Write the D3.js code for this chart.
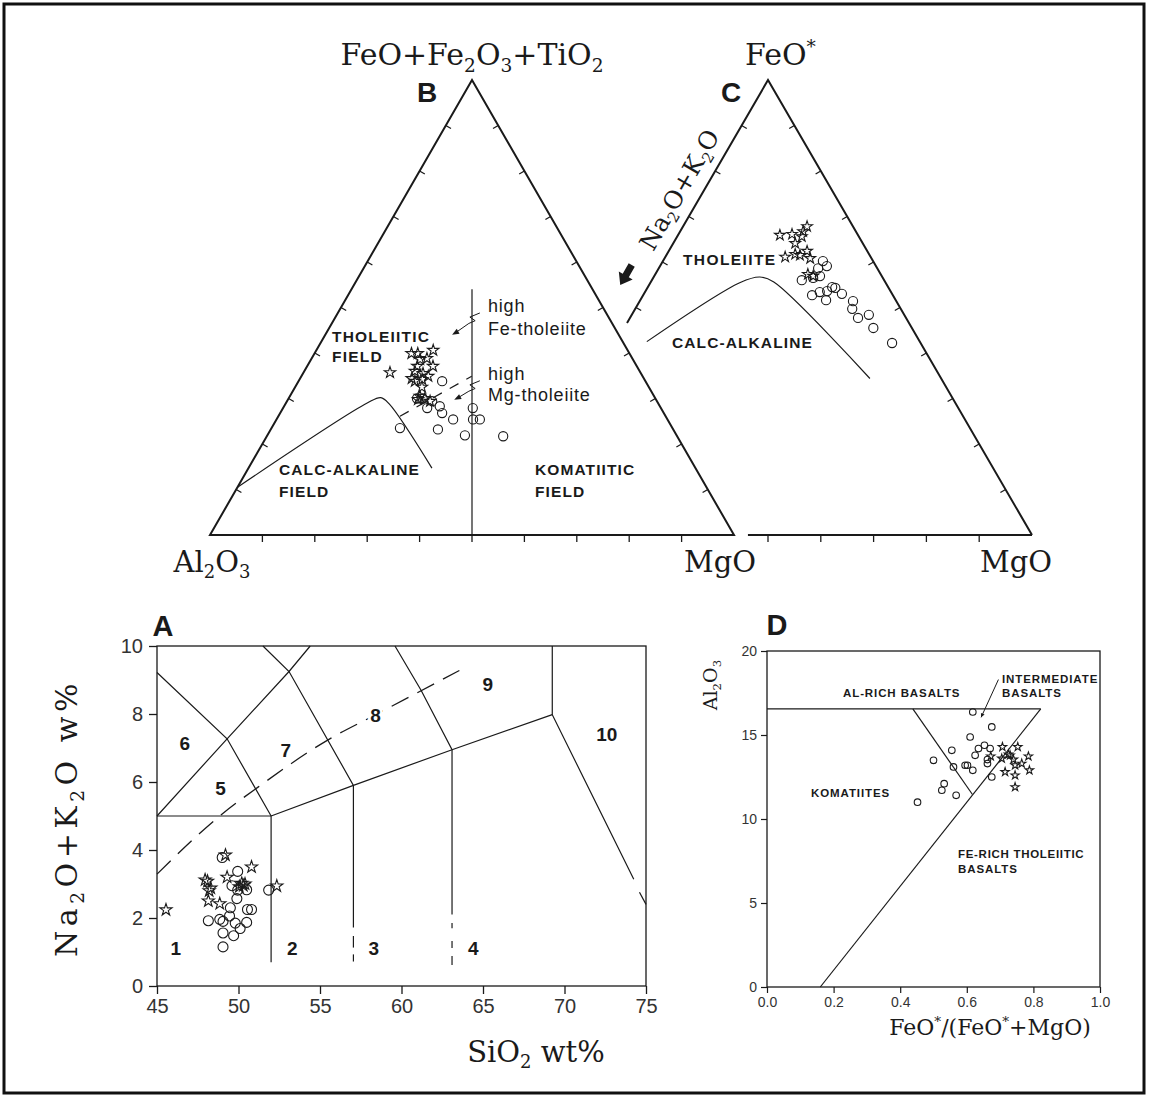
<!DOCTYPE html>
<html>
<head>
<meta charset="utf-8">
<script src="https://cdn.jsdelivr.net/npm/d3@7"></script>
<style>
  html,body{margin:0;padding:0;background:#fff;}
  svg{display:block;}
  .serif{font-family:"DejaVu Serif","Liberation Serif",serif;fill:#1a1a1a;}
  .lab{font-family:"Liberation Sans",Arial,sans-serif;font-weight:bold;fill:#1a1a1a;}
  .reg{font-family:"Liberation Sans",Arial,sans-serif;fill:#1a1a1a;}
  .tick text{font-family:"Liberation Sans",Arial,sans-serif;fill:#333;}
</style>
</head>
<body>
<svg id="fig" width="1149" height="1097" viewBox="0 0 1149 1097"></svg>
<script>
// ================= DATA =================
// Panel A : total alkali vs silica  [SiO2 wt%, Na2O+K2O wt%]
const tasCircles = [[49.0,3.78],[49.95,3.37],[49.6,2.95],[49.95,2.82],[50.5,2.83],[49.9,2.57],[49.5,2.3],
  [50.55,2.25],[50.8,2.25],[48.15,1.92],[48.85,1.96],[49.05,1.9],[49.45,2.06],[49.8,1.85],[50.1,1.69],
  [50.5,1.87],[49.05,1.56],[49.7,1.48],[49.05,1.15],[51.85,2.82]];
const tasStars = [[45.55,2.24],[49.2,3.85],[49.3,3.2],[50.8,3.5],[47.95,3.12],[48.1,3.08],[48.3,2.88],
  [48.2,2.8],[48.15,2.5],[48.85,2.42],[50.2,3.02],[50.4,3.0],[50.05,2.92],[50.3,2.95],[52.35,2.94]];
const tasTicksX = [45,50,55,60,65,70,75];
const tasTicksY = [0,2,4,6,8,10];
const tasFieldLines = [
  [[45,9.22],[49.3,7.27],[52,5]],
  [[45,5],[49.3,7.27],[53.1,9.25],[54.4,10]],
  [[51.5,10],[53.1,9.25],[57.05,5.9],[57.05,1.72]],
  [[45,5],[52,5],[52,0.7]],
  [[52,5],[57.05,5.9],[63.1,6.95],[69.25,7.98]],
  [[59.6,10],[61.2,8.7],[63.1,6.95],[63.1,2.1]],
  [[69.25,10],[69.25,7.98],[74.25,3.14]],
  [[57.05,1.47],[57.05,1.13]],[[57.05,0.93],[57.05,0.72]],
  [[63.1,1.85],[63.1,1.7]],[[63.1,1.32],[63.1,1.12]],[[63.1,0.88],[63.1,0.62]],
  [[74.6,2.76],[75,2.4]]
];
const tasAlkalineLine = [[45,3.29],[49,5.06],[51.2,5.85],[55.6,7.27],[58.5,8.0],[63.55,9.28]];
const tasFieldNames = ["1","2","3","4","5","6","7","8","9","10"];
const tasFieldPos = [[46.15,1.1],[53.3,1.1],[58.3,1.1],[64.4,1.1],[48.9,5.83],[46.7,7.14],[52.9,6.93],[58.4,7.96],[65.3,8.87],[72.6,7.42]];

// Panel B : Jensen cation plot  [FeO+Fe2O3+TiO2 %, MgO %]  (Al2O3 = remainder)
const jensenStars = [[39.9,18.5],[39.9,19.7],[40.6,22.3],[38.8,22.0],[38.6,20.8],[35.7,16.5],[37.1,21.0],
  [36.0,21.1],[37.1,24.0],[35.5,22.9],[34.4,21.3],[34.2,23.4],[34.9,24.2],[33.8,22.2],[30.5,24.8],
  [30.0,26.0],[29.4,27.3],[29.8,24.8],[32.5,24.2]];
const jensenCircles = [[33.8,27.4],[30.0,24.5],[27.9,27.5],[28.3,29.7],[26.8,30.9],[25.4,33.7],[27.9,36.2],
  [25.4,37.5],[25.4,38.8],[23.5,24.5],[23.2,31.9],[21.9,37.7],[21.7,45.1],[29.4,27.7],[30.0,25.6]];
const jensenCalcAlk = [[10.5,0],[29,15.5],[30.2,17.5],[28.8,19.8],[14.7,35]];
const jensenDivide = [[0,50],[54,23]];
const jensenFeMgDash = [[26.1,23.2],[34.9,32.5]];
const ternTicks = [10,20,30,40,50,60,70,80,90];

// Panel C : AFM  [FeO* %, MgO %]  (Na2O+K2O = remainder)
const afmStars = [[65.9,19.3],[66.1,21.5],[65.6,23.6],[67.8,23.5],[66.7,23.3],[64.1,23.1],[61.1,22.7],
  [61.7,24.3],[61.5,25.3],[62.4,26.2],[60.8,27.6],[56.9,30.1],[57.3,28.9]];
const afmCircles = [[60.2,30.3],[59.1,31.6],[58.6,30.2],[56.9,31.4],[56.0,28.4],[56.5,30.3],[54.5,34.9],
  [54.3,35.6],[53.4,33.1],[53.6,34.4],[52.7,32.0],[51.6,35.2],[53.0,37.5],[51.4,40.4],[49.7,41.1],
  [47.7,43.2],[48.4,44.9],[45.5,47.2],[42.2,52.4]];
const afmBoundary = [[42.5,5.8],[55.5,17],[56.7,20.1],[55.6,23.3],[34.4,52.1]];

// Panel D : Al2O3 vs FeO*/(FeO*+MgO)
const dCircles = [[0.618,16.37],[0.675,15.48],[0.61,14.88],[0.555,14.09],[0.5,13.49],[0.635,14.19],
  [0.653,14.39],[0.67,14.19],[0.625,13.79],[0.662,13.54],[0.662,13.3],[0.595,13.2],[0.602,13.2],
  [0.618,12.9],[0.56,13.1],[0.675,12.5],[0.532,12.1],[0.525,11.71],[0.568,11.41],[0.452,11.0]];
const dStars = [[0.707,14.29],[0.753,14.29],[0.785,13.73],[0.672,13.73],[0.705,13.6],[0.725,13.85],
  [0.73,13.79],[0.74,13.54],[0.745,13.2],[0.765,13.3],[0.788,12.9],[0.715,12.8],[0.745,12.6],[0.745,11.9]];
const dTicksX = [0,0.2,0.4,0.6,0.8,1.0];
const dTicksY = [0,5,10,15,20];
const dLines = [
  [[0,16.55],[0.822,16.55]],
  [[0.438,16.55],[0.617,11.46]],
  [[0.822,16.55],[0.16,0]]
];
const dPointer = [[0.695,18.3],[0.643,16.05]];

// ================= DRAWING =================
const INK = "#1a1a1a";
const svg = d3.select("#fig");
svg.append("rect").attr("x",4).attr("y",4).attr("width",1140).attr("height",1089)
  .attr("fill","none").attr("stroke","#111").attr("stroke-width",3);

function rich(g, x, y, fs, parts) {
  const t = g.append("text").attr("x",x).attr("y",y).attr("font-size",fs);
  let shift = 0;
  for (const [s,k] of parts) {
    const target = k==="sub" ? fs*0.22 : k==="sup" ? -fs*0.4 : 0;
    const ts = t.append("tspan").text(s).attr("dy", target - shift);
    if (k) ts.attr("font-size", fs*0.62);
    shift = target;
  }
  return t;
}
const starSym = s => d3.symbol(d3.symbolStar, s)();
const circleMark = (g, data, fx, fy, r) => g.append("g").selectAll("circle").data(data).join("circle")
  .attr("cx", d=>fx(d)).attr("cy", d=>fy(d)).attr("r", r)
  .attr("fill","none").attr("stroke",INK).attr("stroke-width",1.1);
const starMark = (g, data, fx, fy, s) => g.append("g").selectAll("path").data(data).join("path")
  .attr("transform", d=>`translate(${fx(d)},${fy(d)})`).attr("d", starSym(s))
  .attr("fill","none").attr("stroke",INK).attr("stroke-width",1.1).attr("stroke-linejoin","miter");
function arrowHead(g, from, tip, len, half) {
  const dx = tip[0]-from[0], dy = tip[1]-from[1], L = Math.hypot(dx,dy);
  const ux = dx/L, uy = dy/L, bx = tip[0]-ux*len, by = tip[1]-uy*len;
  g.append("path").attr("d", `M${tip[0]},${tip[1]}L${bx-uy*half},${by+ux*half}L${bx+uy*half},${by-ux*half}Z`)
    .attr("fill",INK);
}

// ---------- Panel A ----------
const xA = d3.scaleLinear().domain([45,75]).range([157,646]);
const yA = d3.scaleLinear().domain([0,10]).range([986,646]);
const gA = svg.append("g");
gA.append("rect").attr("x",xA(45)).attr("y",yA(10)).attr("width",xA(75)-xA(45)).attr("height",yA(0)-yA(10))
  .attr("fill","none").attr("stroke",INK).attr("stroke-width",1.3);
const axAx = gA.append("g").attr("transform",`translate(0,${yA(0)})`)
  .call(d3.axisBottom(xA).tickValues(tasTicksX).tickSize(8).tickSizeOuter(0).tickPadding(5));
const axAy = gA.append("g").attr("transform",`translate(${xA(45)},0)`)
  .call(d3.axisLeft(yA).tickValues(tasTicksY).tickSize(8).tickSizeOuter(0).tickPadding(6));
[axAx, axAy].forEach(a => { a.select(".domain").remove();
  a.selectAll("line").attr("stroke",INK).attr("stroke-width",1.3);
  a.selectAll("text").attr("font-size",20); });
const lineA = d3.line().x(d=>xA(d[0])).y(d=>yA(d[1]));
gA.append("g").selectAll("path").data(tasFieldLines).join("path").attr("d",lineA)
  .attr("fill","none").attr("stroke",INK).attr("stroke-width",1.2);
gA.append("path").attr("d", d3.line().x(d=>xA(d[0])).y(d=>yA(d[1])).curve(d3.curveMonotoneX)(tasAlkalineLine))
  .attr("fill","none").attr("stroke",INK).attr("stroke-width",1.3).attr("stroke-dasharray","19,10");
gA.append("g").selectAll("text").data(tasFieldNames).join("text").attr("class","lab")
  .attr("x",(d,i)=>xA(tasFieldPos[i][0])).attr("y",(d,i)=>yA(tasFieldPos[i][1]))
  .attr("dy","0.36em").attr("text-anchor","middle").attr("font-size",19).text(d=>d)
  .attr("stroke",(d)=>d==="8"?"#fff":"none").attr("stroke-width",6).attr("paint-order","stroke");
circleMark(gA, tasCircles, d=>xA(d[0]), d=>yA(d[1]), 5);
starMark(gA, tasStars, d=>xA(d[0]), d=>yA(d[1]), 46);
gA.append("text").attr("class","lab").attr("x",163).attr("y",636).attr("text-anchor","middle").attr("font-size",29).text("A");
rich(gA, 0, 0, 30, [["Na"],["2","sub"],["O+K"],["2","sub"],["O w%"]]).attr("class","serif")
  .attr("text-anchor","middle").attr("letter-spacing",4.5).attr("transform","translate(77,818) rotate(-90)");
rich(gA, 536, 1062, 29, [["SiO"],["2","sub"],[" wt%"]]).attr("class","serif").attr("text-anchor","middle");

// ---------- Ternary helpers ----------
function makeTernary(sRange, fRange){
  const sx = d3.scaleLinear().domain([0,100]).range(sRange);
  const fy = d3.scaleLinear().domain([0,100]).range(fRange);
  const proj = (fe, mg) => [sx(mg + fe/2), fy(fe)];
  return {sx, fy, proj};
}
function tickSet(g, pts, dir, len){
  g.append("g").selectAll("line").data(pts).join("line")
    .attr("x1",d=>d[0]).attr("y1",d=>d[1]).attr("x2",d=>d[0]+dir[0]*len).attr("y2",d=>d[1]+dir[1]*len)
    .attr("stroke",INK).attr("stroke-width",1.3);
}

// ---------- Panel B ----------
const TB = makeTernary([210,734],[535,80]);
const gB = svg.append("g");
const pB = d => TB.proj(d[0], d[1]);
const lineB = d3.line().x(d=>pB(d)[0]).y(d=>pB(d)[1]);
gB.append("path").attr("d", lineB([[0,0],[100,0],[0,100]]) + "Z")
  .attr("fill","none").attr("stroke",INK).attr("stroke-width",2).attr("stroke-linejoin","miter");
tickSet(gB, ternTicks.map(v=>TB.proj(0,v)), [0,1], 7);
tickSet(gB, ternTicks.map(v=>TB.proj(v,0)), [0.866,0.5], 6);
tickSet(gB, ternTicks.map(v=>TB.proj(v,100-v)), [-0.866,0.5], 6);
gB.append("path").attr("d", lineB(jensenDivide)).attr("fill","none").attr("stroke",INK).attr("stroke-width",1.2);
gB.append("path").attr("d", d3.line().x(d=>pB(d)[0]).y(d=>pB(d)[1]).curve(d3.curveCatmullRom.alpha(0.5))(jensenCalcAlk))
  .attr("fill","none").attr("stroke",INK).attr("stroke-width",1.2);
gB.append("path").attr("d", lineB(jensenFeMgDash)).attr("fill","none").attr("stroke",INK)
  .attr("stroke-width",1.2).attr("stroke-dasharray","10,9");
// annotation arrows (S = MgO + Fe/2 , Fe)
const annFe = [[51.5,48.8],[49.6,47.9],[50.6,47.1],[49.4,46.5],[46.8,44.4]], annFeTip=[46.2,44.0];
const annMg = [[51.5,33.9],[49.6,33.0],[50.6,32.2],[49.4,31.6],[47.1,30.0]], annMgTip=[46.6,29.7];
[[annFe,annFeTip],[annMg,annMgTip]].forEach(([pts,tip])=>{
  const P = pts.map(d=>[TB.sx(d[0]),TB.fy(d[1])]);
  gB.append("path").attr("d", d3.line()(P)).attr("fill","none").attr("stroke",INK).attr("stroke-width",1);
  arrowHead(gB, P[P.length-1], [TB.sx(tip[0]),TB.fy(tip[1])], 7, 2.8);
});
circleMark(gB, jensenCircles, d=>pB(d)[0], d=>pB(d)[1], 4.6);
starMark(gB, jensenStars, d=>pB(d)[0], d=>pB(d)[1], 40);
const bl = (t,x,y,fs,ls)=>gB.append("text").attr("class","lab").attr("x",x).attr("y",y).attr("font-size",fs).attr("letter-spacing",ls).text(t);
bl("THOLEIITIC",332,342,15.5,1.2); bl("FIELD",332,362,15.5,1.2);
bl("CALC-ALKALINE",279,475,15.5,1.1); bl("FIELD",279,497,15.5,1.1);
bl("KOMATIITIC",535,475,15.5,1.1); bl("FIELD",535,497,15.5,1.1);
const br = (t,x,y)=>gB.append("text").attr("class","reg").attr("x",x).attr("y",y).attr("font-size",18).attr("letter-spacing",0.8).text(t);
br("high",488,312); br("Fe-tholeiite",488,335); br("high",488,380); br("Mg-tholeiite",488,401);
gB.append("text").attr("class","lab").attr("x",427).attr("y",102).attr("text-anchor","middle").attr("font-size",28).text("B");
rich(gB, 472, 65, 30, [["FeO+Fe"],["2","sub"],["O"],["3","sub"],["+TiO"],["2","sub"]]).attr("class","serif").attr("text-anchor","middle");
rich(gB, 212, 572, 29, [["Al"],["2","sub"],["O"],["3","sub"]]).attr("class","serif").attr("text-anchor","middle");
gB.append("text").attr("class","serif").attr("x",720).attr("y",572).attr("font-size",29).attr("text-anchor","middle").text("MgO");

// ---------- Panel C ----------
const TC = makeTernary([504,1032],[535,80]);
const gC = svg.append("g");
const pC = d => TC.proj(d[0], d[1]);
const lineC = d3.line().x(d=>pC(d)[0]).y(d=>pC(d)[1]);
gC.append("path").attr("d", lineC([[46.6,0],[100,0],[0,100]])).attr("fill","none").attr("stroke",INK).attr("stroke-width",2);
gC.append("path").attr("d", lineC([[0,46.2],[0,100]])).attr("fill","none").attr("stroke",INK).attr("stroke-width",2);
tickSet(gC, ternTicks.filter(v=>v>=50).map(v=>TC.proj(0,v)), [0,1], 7);
tickSet(gC, ternTicks.filter(v=>v>=50).map(v=>TC.proj(v,0)), [0.866,0.5], 6);
tickSet(gC, ternTicks.map(v=>TC.proj(v,100-v)), [-0.866,0.5], 6);
gC.append("path").attr("d", d3.line().x(d=>pC(d)[0]).y(d=>pC(d)[1]).curve(d3.curveCatmullRom.alpha(0.5))(afmBoundary))
  .attr("fill","none").attr("stroke",INK).attr("stroke-width",1.2);
circleMark(gC, afmCircles, d=>pC(d)[0], d=>pC(d)[1], 4.6);
starMark(gC, afmStars, d=>pC(d)[0], d=>pC(d)[1], 36);
gC.append("text").attr("class","lab").attr("x",683).attr("y",265).attr("font-size",15.5).attr("letter-spacing",1.4).text("THOLEIITE");
gC.append("text").attr("class","lab").attr("x",672).attr("y",348).attr("font-size",15.5).attr("letter-spacing",1.1).text("CALC-ALKALINE");
gC.append("text").attr("class","lab").attr("x",731).attr("y",102).attr("text-anchor","middle").attr("font-size",28).text("C");
rich(gC, 745, 65, 30, [["FeO"],["*","sup"]]).attr("class","serif");
gC.append("text").attr("class","serif").attr("x",1016).attr("y",572).attr("font-size",29).attr("text-anchor","middle").text("MgO");
{
  const [ex,ey] = TC.proj(73.5,0);
  rich(gC, 0, 0, 24.5, [["Na"],["2","sub"],["O+K"],["2","sub"],["O"]]).attr("class","serif")
    .attr("text-anchor","middle").attr("transform",`translate(${ex-0.866*13},${ey-0.5*13}) rotate(-60)`);
  const [ax,ay] = TC.proj(54.5,0);
  gC.append("path").attr("d", d3.line()([[12,0],[1,8],[1,3.5],[-11,3.5],[-11,-3.5],[1,-3.5],[1,-8]])+"Z")
    .attr("transform",`translate(${ax-0.866*25},${ay-0.5*25}) rotate(120)`).attr("fill",INK);
}

// ---------- Panel D ----------
const xD = d3.scaleLinear().domain([0,1]).range([767,1100]);
const yD = d3.scaleLinear().domain([0,20]).range([987,651]);
const gD = svg.append("g");
gD.append("rect").attr("x",xD(0)).attr("y",yD(20)).attr("width",xD(1)-xD(0)).attr("height",yD(0)-yD(20))
  .attr("fill","none").attr("stroke",INK).attr("stroke-width",1.3);
const axDx = gD.append("g").attr("transform",`translate(0,${yD(0)})`)
  .call(d3.axisBottom(xD).tickValues(dTicksX).tickFormat(d3.format(".1f")).tickSize(6).tickSizeOuter(0).tickPadding(4));
const axDy = gD.append("g").attr("transform",`translate(${xD(0)},0)`)
  .call(d3.axisLeft(yD).tickValues(dTicksY).tickSize(6).tickSizeOuter(0).tickPadding(4));
[axDx, axDy].forEach(a => { a.select(".domain").remove();
  a.selectAll("line").attr("stroke",INK).attr("stroke-width",1.2);
  a.selectAll("text").attr("font-size",14).attr("fill","#444"); });
const lineD = d3.line().x(d=>xD(d[0])).y(d=>yD(d[1]));
gD.append("g").selectAll("path").data(dLines).join("path").attr("d",lineD)
  .attr("fill","none").attr("stroke",INK).attr("stroke-width",1.2);
gD.append("path").attr("d", lineD(dPointer)).attr("fill","none").attr("stroke",INK).attr("stroke-width",1);
arrowHead(gD, [xD(dPointer[0][0]),yD(dPointer[0][1])], [xD(dPointer[1][0]),yD(dPointer[1][1])], 4, 2);
circleMark(gD, dCircles, d=>xD(d[0]), d=>yD(d[1]), 3.3);
starMark(gD, dStars, d=>xD(d[0]), d=>yD(d[1]), 22);
const dl = (t,x,y,ls)=>gD.append("text").attr("class","lab").attr("x",x).attr("y",y).attr("font-size",11.5).attr("letter-spacing",ls).text(t);
dl("AL-RICH BASALTS",843,697,0.9); dl("INTERMEDIATE",1002,683,0.9); dl("BASALTS",1002,697,0.9);
dl("KOMATIITES",811,797,0.9); dl("FE-RICH THOLEIITIC",958,858,0.7); dl("BASALTS",958,873,0.9);
gD.append("text").attr("class","lab").attr("x",777).attr("y",635).attr("text-anchor","middle").attr("font-size",29).text("D");
rich(gD, 990, 1035, 22, [["FeO"],["*","sup"],["/(FeO"],["*","sup"],["+MgO)"]]).attr("class","serif").attr("text-anchor","middle");
rich(gD, 0, 0, 19, [["Al"],["2","sub"],["O"],["3","sub"]]).attr("class","serif")
  .attr("text-anchor","middle").attr("transform","translate(717,685) rotate(-90)");
</script>
</body>
</html>
